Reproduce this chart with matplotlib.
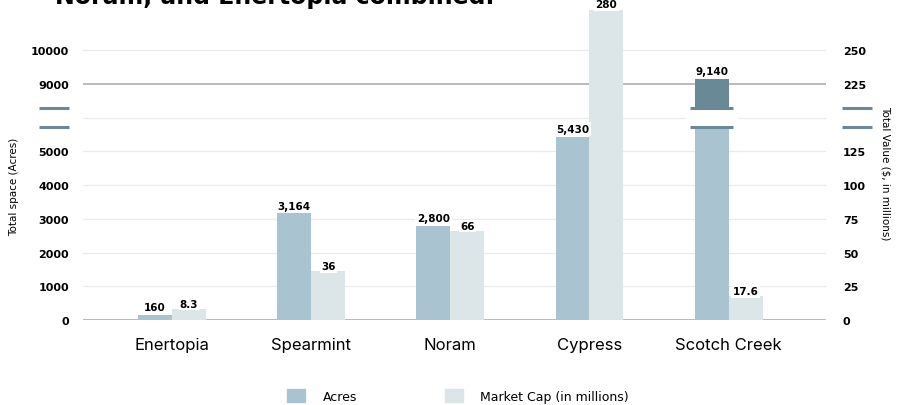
import numpy as np
import matplotlib.pyplot as plt
from matplotlib.patches import Patch
from matplotlib import transforms

# datos del grafico
categories = ['Enertopia', 'Spearmint', 'Noram', 'Cypress', 'Scotch Creek']
acres = [160, 3164, 2800, 5430, 9140]
market_cap = [8.3, 36, 66, 280, 17.6]
acre_labels = ['160', '3,164', '2,800', '5,430', '9,140']
cap_labels = ['8.3', '36', '66', '280', '17.6']
left_ticks = [0, 1000, 2000, 3000, 4000, 5000, 9000, 10000]
right_ticks = [0, 25, 50, 75, 100, 125, 225, 250]

c_acres = '#a9c4d0'
c_cap = '#dce5e8'
c_dark = '#6a8996'

# eje cortado: arriba del corte todo baja "cut" unidades
brk, gap = 6, 0.27


def pos(v, step, cut):
    if v / step <= brk:
        return v / step
    return (v - cut) / step


fig = plt.figure(figsize=(8.99, 4.06), dpi=100)
ax = fig.add_axes([83 / 899, 85 / 406, 743 / 899, 8.6 * 33.75 / 406])
ax.set_xlim(-0.64, 4.70)
ax.set_ylim(0, 8.6)
for s in ax.spines.values():
    s.set_visible(False)

# lineas de la grilla
for k in range(9):
    col = '#a8a8a8' if k in (0, 7) else '#ebebeb'
    ax.axhline(k, color=col, lw=1.1 if k in (0, 7) else 0.9, zorder=0)

x = np.arange(len(categories))
w = 0.244
for i in x:
    h = pos(acres[i], 1000, 2000)
    if h > brk:
        ax.bar(i - w / 2, brk - gap, w, color=c_acres, zorder=2)
        ax.bar(i - w / 2, h - (brk + gap), w, bottom=brk + gap, color=c_dark, zorder=2)
        ax.fill_between([i - w / 2 - 0.183, i - w / 2 + 0.183], brk - gap, brk + gap,
                        color='white', zorder=1.5)
        for yy in (brk - gap, brk + gap):
            ax.plot([i - w - 0.035, i + 0.035], [yy, yy], color=c_dark, lw=2.2,
                    solid_capstyle='butt', zorder=3)
    else:
        ax.bar(i - w / 2, h, w, color=c_acres, zorder=2)
    ax.text(i - w / 2, h + 0.08, acre_labels[i], ha='center', va='bottom', fontsize=7.5,
            fontweight='bold', zorder=4, clip_on=False,
            bbox=dict(facecolor='white', edgecolor='none', pad=1.5))

    hc = pos(market_cap[i], 25, 50)
    ax.bar(i + w / 2, hc, w, color=c_cap, zorder=2, clip_on=False)
    ax.text(i + w / 2, hc + 0.06, cap_labels[i], ha='center', va='baseline', fontsize=7.5,
            fontweight='bold', zorder=4, clip_on=False,
            bbox=dict(facecolor='white', edgecolor='none', pad=1.0))

# etiquetas de los ejes
ax.set_xticks(x)
ax.set_xticklabels(categories, fontsize=12, family='Inter')
ax.tick_params(axis='x', length=0, pad=12)

ax.set_yticks([pos(v, 1000, 2000) for v in left_ticks])
ax.set_yticklabels([str(v) for v in left_ticks], fontsize=8, fontweight='bold')
ax.tick_params(axis='y', length=0, pad=10)

ax2 = ax.twinx()
ax2.set_ylim(ax.get_ylim())
for s in ax2.spines.values():
    s.set_visible(False)
ax2.set_yticks([pos(v, 25, 50) for v in right_ticks])
ax2.set_yticklabels([str(v) for v in right_ticks], fontsize=8, fontweight='bold')
ax2.tick_params(axis='y', length=0, pad=12.2)

# marcas del corte en los ejes
tr = transforms.blended_transform_factory(ax.transAxes, ax.transData)
for yy in (brk - gap, brk + gap):
    ax.plot([-0.0592, -0.0188], [yy, yy], color=c_dark, lw=2.2, transform=tr,
            clip_on=False, solid_capstyle='butt')
    ax.plot([1.0215, 1.062], [yy, yy], color=c_dark, lw=2.2, transform=tr,
            clip_on=False, solid_capstyle='butt')

fig.text(14 / 899, 1 - 187 / 406, 'Total space (Acres)', rotation=90, fontsize=7.5,
         ha='center', va='center')
fig.text(886 / 899, 1 - 173 / 406, 'Total Value ($, in millions)', rotation=270,
         fontsize=7.5, ha='center', va='center')

fig.text(55 / 899, 1 - 4 / 406, 'Noram, and Enertopia combined.', fontsize=17,
         fontweight='bold', va='baseline', ha='left')

handles = [Patch(color=c_acres, label='Acres'),
           Patch(color=c_cap, label='Market Cap (in millions)')]
fig.legend(handles=handles, loc='center', bbox_to_anchor=(458 / 899, 9 / 406), ncol=2,
           frameon=False, fontsize=9, handlelength=1.45, handleheight=1.2,
           handletextpad=1.4, columnspacing=7)

fig.savefig('out.png', dpi=100)
